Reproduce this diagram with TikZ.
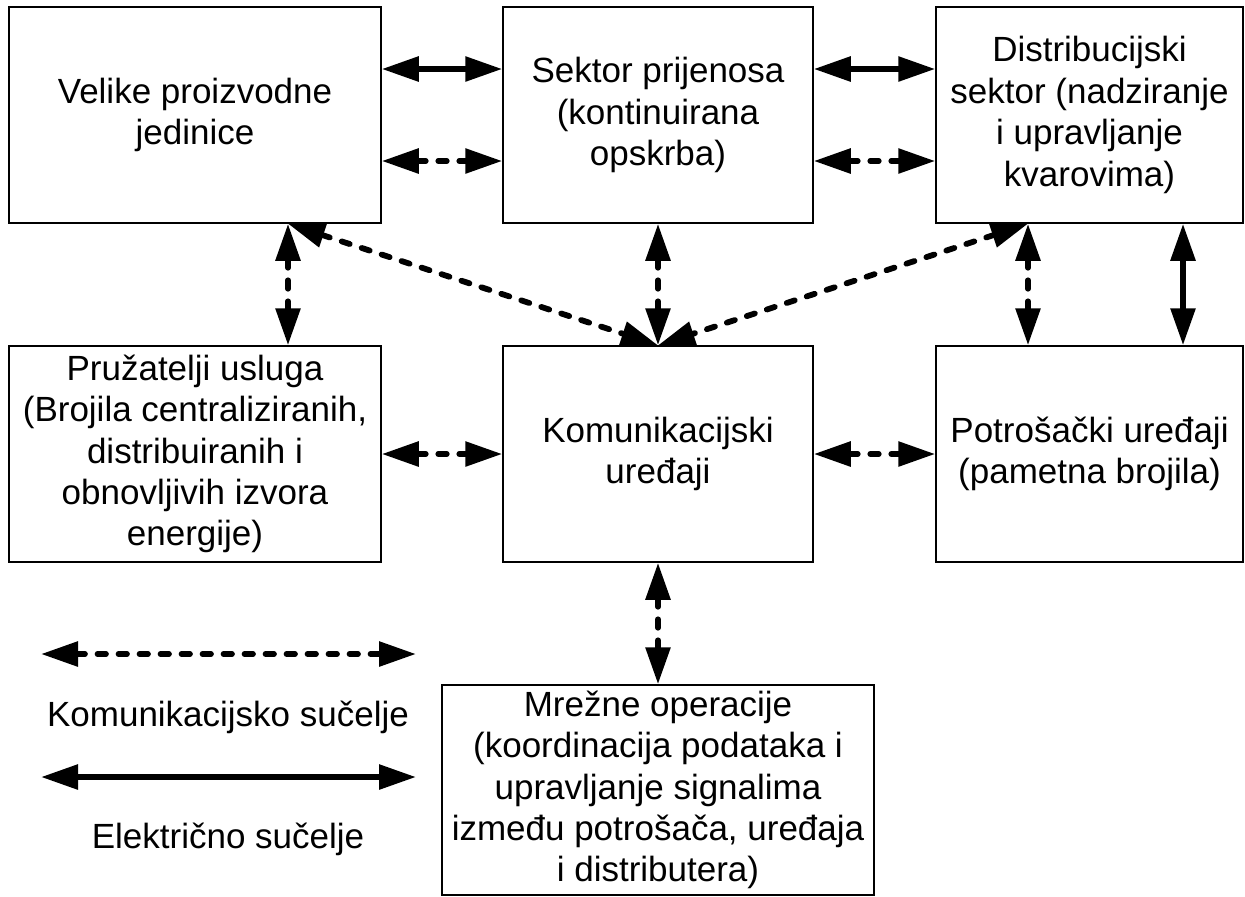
\documentclass[tikz,border=0pt]{standalone}
\usepackage{fontspec}
\setmainfont{Liberation Sans}
\usetikzlibrary{arrows.meta}

\begin{document}
\begin{tikzpicture}[x=0.5pt, y=-0.5pt, >={Triangle[length=18.5pt, width=12pt]},
    txt/.style={font=\fontsize{17.5}{20.7}\selectfont, align=center, inner sep=0pt},
    box/.style={txt, draw, line width=.75pt, minimum height=108pt},
    komm/.style={<->, line width=2.9pt, line cap=round, dash pattern=on 4.2pt off 6.3pt},
    elek/.style={<->, line width=2.9pt}]
\useasboundingbox (0,0) rectangle (1245,896);

\node[box, minimum width=186pt] (velike) at (195,115) {Velike proizvodne\\jedinice};
\node[box, minimum width=155pt] (prijenos) at (658,115) {Sektor prijenosa\\(kontinuirana\\opskrba)};
\node[box, minimum width=153.5pt] (distrib) at (1089.5,115) {Distribucijski\\sektor (nadziranje\\i upravljanje\\kvarovima)};
\node[box, minimum width=186pt] (usluge) at (195,454) {Pružatelji usluga\\(Brojila centraliziranih,\\distribuiranih i\\obnovljivih izvora\\energije)};
\node[box, minimum width=155pt] (komun) at (658,454) {Komunikacijski\\uređaji};
\node[box, minimum width=153.5pt] (potros) at (1089.5,454) {Potrošački uređaji\\(pametna brojila)};
\node[box, minimum width=216pt, minimum height=105pt] (mreza) at (658,790) {Mrežne operacije\\(koordinacija podataka i\\upravljanje signalima\\između potrošača, uređaja\\i distributera)};

% gornji red
\draw[elek]([yshift=23pt]velike.east)--([yshift=23pt]prijenos.west);
\draw[komm]([yshift=-23pt]velike.east)--([yshift=-23pt]prijenos.west);
\draw[elek]([yshift=23pt]prijenos.east)--([yshift=23pt]distrib.west);
\draw[komm]([yshift=-23pt]prijenos.east)--([yshift=-23pt]distrib.west);

% prema komunikacijskim uredajima
\draw[komm]([xshift=46.5pt]velike.south)--([xshift=46.5pt]usluge.north);
\draw[komm]([xshift=46.5pt]velike.south)--(komun.north);
\draw[komm](prijenos.south)--(komun.north);
\draw[komm]([xshift=-30.75pt]distrib.south)--(komun.north);
\draw[komm]([xshift=-30.75pt]distrib.south)--([xshift=-30.75pt]potros.north);
\draw[elek]([xshift=46.75pt]distrib.south)--([xshift=46.75pt]potros.north);
\draw[komm](usluge.east)--(komun.west);
\draw[komm](komun.east)--(potros.west);
\draw[komm](komun.south)--(mreza.north);

% legenda
\coordinate (k1) at (41,654);
\coordinate (k2) at (416,654);
\coordinate (e1) at (41,777);
\coordinate (e2) at (416,777);
\draw[komm](k1)--(k2);
\draw[elek](e1)--(e2);
\node[txt] (kleg) at (228,717) {Komunikacijsko sučelje};
\node[txt] (eleg) at (228,839) {Električno sučelje};
\end{tikzpicture}
\end{document}
